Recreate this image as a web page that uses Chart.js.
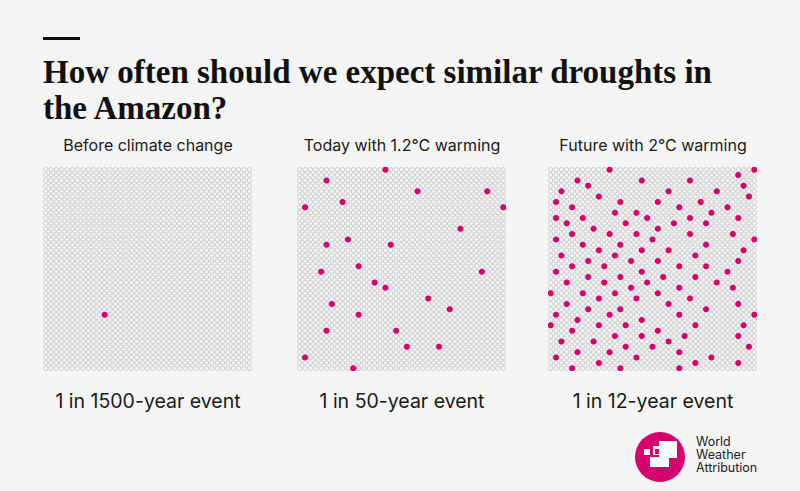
<!DOCTYPE html>
<html>
<head>
<meta charset="utf-8">
<script src="https://cdn.jsdelivr.net/npm/chart.js@4.4.0/dist/chart.umd.min.js"></script>
<style>
    html, body { margin: 0; padding: 0; }
    body { width: 800px; height: 491px; background: #f5f5f5; position: relative; overflow: hidden; font-family: Inter, "Noto Sans", sans-serif; color: #1a1a1a; }
    .bar { position: absolute; left: 43px; top: 37px; width: 37px; height: 3px; background: #111; }
    .title { position: absolute; left: 43px; top: 54px; font-family: "Liberation Serif", serif; font-weight: bold; font-size: 33px; line-height: 36px; color: #111; }
    .panel-title { position: absolute; top: 135px; width: 260px; text-align: center; font-size: 16px; }
    .event { position: absolute; top: 389px; width: 260px; text-align: center; font-size: 19.5px; }
    canvas.grid { position: absolute; top: 167px; }
    .logo { position: absolute; left: 635px; top: 432px; width: 50px; height: 50px; border-radius: 50%; background: #d6006f; }
    .logo div { position: absolute; background: #fff; }
    .logo-text { position: absolute; left: 696px; top: 435px; font-family: Inter, sans-serif; font-size: 12.5px; line-height: 13px; color: #222; }
</style>
</head>
<body>
<div class="bar"></div>
<div class="title">How often should we expect similar droughts in<br>the Amazon?</div>

<div id="titles"></div>
<canvas class="grid" id="grid-0" style="left:43px"></canvas>
<canvas class="grid" id="grid-1" style="left:297px"></canvas>
<canvas class="grid" id="grid-2" style="left:548px"></canvas>
<div id="events"></div>

<div class="logo">
    <div style="left:9px;top:17px;width:6px;height:6px"></div>
    <div style="left:18px;top:14px;width:9px;height:9px"></div>
    <div style="left:20px;top:17px;width:5px;height:5px;background:#d6006f"></div>
    <div style="left:24px;top:9px;width:18px;height:17px"></div>
    <div style="left:15px;top:25px;width:19px;height:10px"></div>
</div>
<div class="logo-text">World<br>Weather<br>Attribution</div>

<script>
// textes
const panelTitles = ['Before climate change', 'Today with 1.2°C warming', 'Future with 2°C warming'];
const eventLabels = ['1 in 1500-year event', '1 in 50-year event', '1 in 12-year event'];

// grille : colonnes x lignes
const gridCols = 39;
const gridRows = 38;

// cases colorées [colonne, ligne]
const beforeCells = [[11, 27]];
const todayCells = [
    [16, 0], [5, 2], [22, 4], [35, 4], [8, 6], [1, 7], [38, 7], [30, 11],
    [9, 13], [5, 14], [17, 14], [11, 18], [4, 19], [14, 21], [34, 19], [16, 22],
    [24, 24], [6, 25], [11, 27], [28, 26], [5, 30], [18, 30], [20, 33], [26, 33],
    [1, 35], [10, 37]
];
const futureCells = [
    [11, 0], [38, 0], [35, 1], [5, 2], [17, 2], [26, 2], [7, 3], [36, 3],
    [2, 4], [22, 4], [31, 4], [9, 5], [37, 5], [1, 6], [13, 6], [20, 6], [28, 6],
    [4, 7], [24, 7], [33, 7], [12, 8], [16, 8], [30, 8], [1, 9], [6, 9], [18, 9],
    [26, 9], [35, 9], [3, 10], [14, 10], [23, 10], [29, 10], [8, 11], [20, 11],
    [4, 12], [11, 12], [16, 12], [26, 12], [34, 12], [1, 13], [19, 13], [38, 13],
    [6, 14], [13, 14], [29, 14], [9, 15], [17, 15], [22, 15], [36, 15], [2, 16],
    [12, 16], [27, 16], [7, 17], [15, 17], [20, 17], [35, 17], [4, 18], [10, 18],
    [24, 18], [29, 18], [1, 19], [17, 19], [33, 19], [7, 20], [13, 20], [21, 20],
    [27, 20], [3, 21], [10, 21], [18, 21], [31, 21], [15, 22], [24, 22], [34, 22],
    [0, 23], [6, 23], [12, 23], [20, 23], [9, 24], [16, 24], [26, 24], [3, 25],
    [22, 25], [35, 25], [7, 26], [13, 26], [29, 26], [1, 27], [11, 27], [24, 27],
    [38, 27], [5, 28], [17, 28], [0, 29], [9, 29], [14, 29], [27, 29], [36, 29],
    [4, 30], [20, 30], [12, 31], [17, 31], [25, 31], [35, 31], [2, 32], [8, 32],
    [22, 32], [14, 33], [19, 33], [37, 33], [5, 34], [11, 34], [24, 34], [1, 35],
    [16, 35], [30, 35], [9, 36], [27, 36], [35, 36], [4, 37], [13, 37], [24, 37]
];

const pink = '#d6006f';
const cellSize = 5.36;

function renderLabels() {
    let titlesHtml = '';
    let eventsHtml = '';
    const centers = [148, 402, 653];
    panelTitles.forEach((t, i) => {
        titlesHtml += `<div class="panel-title" style="left:${centers[i] - 130}px">${t}</div>`;
    });
    eventLabels.forEach((t, i) => {
        eventsHtml += `<div class="event" style="left:${centers[i] - 130}px">${t}</div>`;
    });
    document.getElementById('titles').innerHTML = titlesHtml;
    document.getElementById('events').innerHTML = eventsHtml;
}

function renderGrid(canvasId, cells) {
    const canvas = document.getElementById(canvasId);
    canvas.width = Math.round(gridCols * cellSize);
    canvas.height = Math.round(gridRows * cellSize);

    // toutes les cases grises
    let allCells = [];
    for (let r = 0; r < gridRows; r++) {
        for (let c = 0; c < gridCols; c++) {
            allCells.push({ x: c, y: r });
        }
    }
    const hits = cells.map(p => ({ x: p[0], y: p[1] }));

    return new Chart(canvas, {
        type: 'scatter',
        data: {
            datasets: [
                {
                    data: hits,
                    backgroundColor: pink,
                    borderWidth: 0,
                    pointRadius: 3,
                    clip: false
                },
                {
                    data: allCells,
                    backgroundColor: 'rgba(0,0,0,0)',
                    borderColor: '#bdbdbd',
                    borderWidth: 0.7,
                    pointRadius: 2.2,
                    clip: false
                }
            ]
        },
        options: {
            responsive: false,
            animation: false,
            devicePixelRatio: 1,
            layout: { padding: 0, autoPadding: false },
            plugins: { legend: { display: false }, tooltip: { enabled: false } },
            scales: {
                x: { type: 'linear', min: -0.5, max: gridCols - 0.5, display: false },
                y: { type: 'linear', min: -0.5, max: gridRows - 0.5, reverse: true, display: false }
            }
        }
    });
}

renderLabels();
renderGrid('grid-0', beforeCells);
renderGrid('grid-1', todayCells);
renderGrid('grid-2', futureCells);
</script>
</body>
</html>
